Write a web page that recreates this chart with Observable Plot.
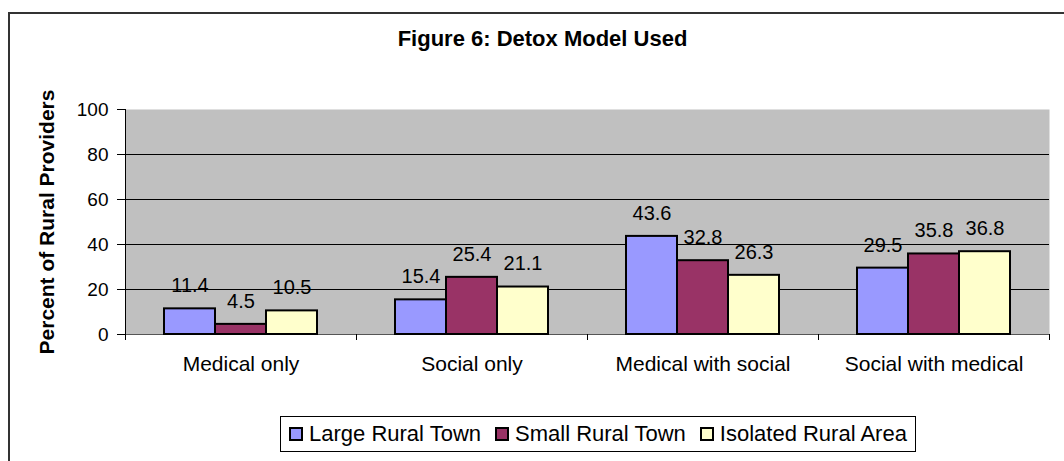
<!DOCTYPE html>
<html>
<head>
<meta charset="utf-8">
<script src="https://cdn.jsdelivr.net/npm/d3@7"></script>
<script src="https://cdn.jsdelivr.net/npm/@observablehq/plot@0.6"></script>
<style>
  html, body { margin: 0; padding: 0; background: #fff; width: 1064px; height: 461px; overflow: hidden;
    font-family: "Liberation Sans", Arial, sans-serif; position: relative; }
  #outer { position: absolute; left: 8px; top: 12px; width: 1100px; height: 500px;
    border: 2px solid #333; box-sizing: border-box; }
  #title { position: absolute; left: 0; width: 1085px; top: 28px; text-align: center;
    font-weight: bold; font-size: 22px; line-height: 22px; color: #000; }
  .layer { position: absolute; left: 0; top: 0; }
  #legend { position: absolute; left: 280px; top: 416px; height: 36px; box-sizing: border-box;
    border: 1px solid #000; display: flex; align-items: center; padding: 0 8px; background: #fff; }
  .item { display: flex; align-items: center; font-size: 22px; line-height: 22px; margin-right: 14px; color: #000; }
  .item:last-child { margin-right: 0; }
  .sw { width: 14px; height: 14px; box-sizing: border-box; border: 2px solid #000; margin-right: 6px; }
</style>
</head>
<body>
<div id="outer"></div>
<div id="title">Figure 6: Detox Model Used</div>
<div id="base" class="layer"></div>
<div id="bars" class="layer"></div>
<div id="legend"></div>
<script>
const categories = ["Medical only", "Social only", "Medical with social", "Social with medical"];
const seriesNames = ["Large Rural Town", "Small Rural Town", "Isolated Rural Area"];
const largeRuralTown = [11.4, 15.4, 43.6, 29.5];
const smallRuralTown = [4.5, 25.4, 32.8, 35.8];
const isolatedRuralArea = [10.5, 21.1, 26.3, 36.8];
const seriesColors = ["#9999FF", "#993366", "#FFFFCC"];
const yTicks = [0, 20, 40, 60, 80, 100];
const yTitle = "Percent of Rural Providers";

const seriesValues = [largeRuralTown, smallRuralTown, isolatedRuralArea];
const data = [];
categories.forEach((c, i) => {
  seriesNames.forEach((s, j) => {
    data.push({category: c, series: s, value: seriesValues[j][i]});
  });
});

const W = 1064, H = 400;
const margins = {marginTop: 109, marginRight: 15, marginBottom: 66, marginLeft: 125};
const font = '"Liberation Sans", Arial, sans-serif';

const base = Plot.plot({
  width: W, height: H, ...margins,
  style: {fontFamily: font, background: "transparent", color: "#000", overflow: "visible"},
  x: {type: "linear", domain: [0, categories.length]},
  y: {domain: [0, 100]},
  marks: [
    Plot.frame({fill: "#c0c0c0", stroke: "none"}),
    Plot.ruleY(yTicks.filter(t => t > 0 && t < 100), {stroke: "#000", strokeWidth: 1}),
    Plot.ruleY([0], {stroke: "#555", strokeWidth: 1}),
    Plot.ruleX([0], {stroke: "#000", strokeWidth: 1}),
    Plot.axisY({ticks: yTicks, tickSize: 8, tickPadding: 9, fontSize: 19, label: null,
      tickFormat: d => String(d)}),
    Plot.axisX({ticks: d3.range(categories.length + 1), tickSize: 6, tickFormat: () => "", label: null}),
    Plot.axisX({ticks: categories.map((c, i) => i + 0.5), tickSize: 0, tickPadding: 22, fontSize: 21,
      tickFormat: v => categories[Math.floor(v)], label: null}),
    Plot.text([yTitle], {frameAnchor: "left", textAnchor: "middle", rotate: -90, dx: -78,
      fontWeight: "bold", fontSize: 21, text: d => d})
  ]
});
document.getElementById("base").appendChild(base);

const bars = Plot.plot({
  width: W, height: H, ...margins,
  style: {fontFamily: font, background: "transparent", color: "#000", overflow: "visible"},
  fx: {domain: categories, paddingInner: 0, paddingOuter: 0, axis: null, label: null},
  x: {domain: seriesNames, paddingInner: 0, paddingOuter: 0.743, axis: null},
  y: {domain: [0, 100], axis: null},
  color: {domain: seriesNames, range: seriesColors},
  marks: [
    Plot.barY(data, {fx: "category", x: "series", y: "value", fill: "series", stroke: "#000", strokeWidth: 2}),
    Plot.text(data, {fx: "category", x: "series", y: "value", text: d => d.value.toFixed(1),
      dy: -23, fontSize: 20, fill: "#000"})
  ]
});
document.getElementById("bars").appendChild(bars);

const legend = document.getElementById("legend");
seriesNames.forEach((s, j) => {
  const item = document.createElement("div");
  item.className = "item";
  const sw = document.createElement("div");
  sw.className = "sw";
  sw.style.background = seriesColors[j];
  item.appendChild(sw);
  item.appendChild(document.createTextNode(s));
  legend.appendChild(item);
});
</script>
</body>
</html>
